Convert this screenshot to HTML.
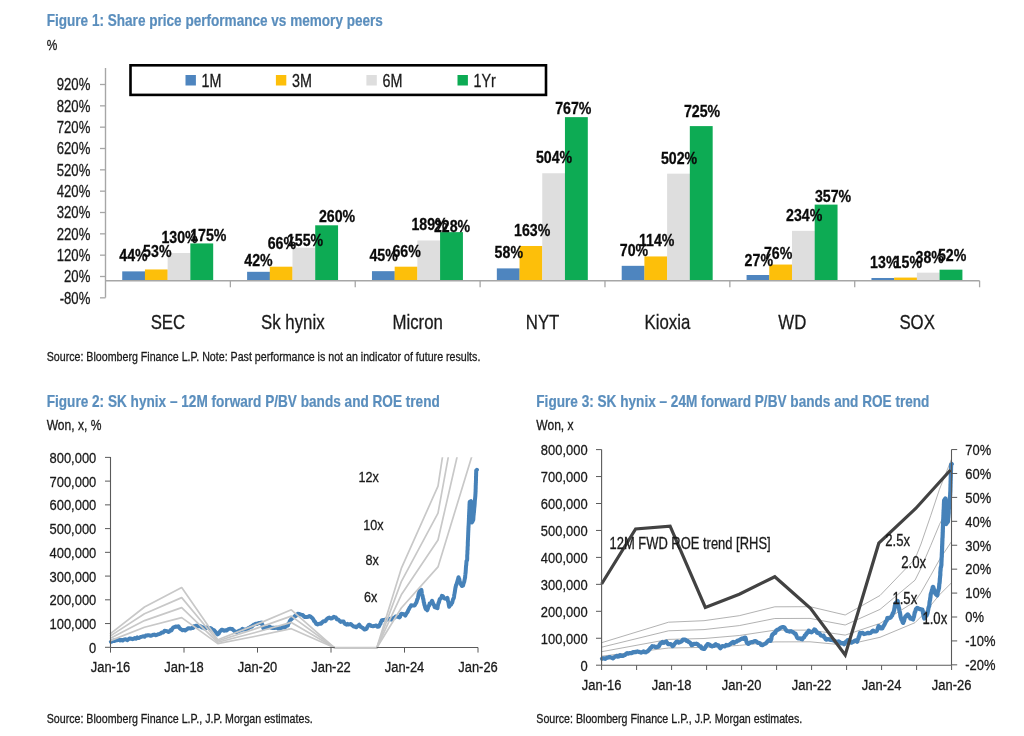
<!DOCTYPE html>
<html lang="en"><head><meta charset="utf-8"><title>Share price performance vs memory peers</title>
<style>
html,body{margin:0;padding:0;background:#fff}
body{width:1024px;height:736px;overflow:hidden}
svg{display:block;font-family:"Liberation Sans",sans-serif}
</style></head><body>
<svg width="1024" height="736" viewBox="0 0 1024 736">
<rect width="1024" height="736" fill="#ffffff"/>
<text transform="translate(46.70,26.20) scale(0.848,1)" font-size="16.0" text-anchor="start" font-weight="700" fill="#5a8ebd" stroke="#5a8ebd" stroke-width="0.2">Figure 1: Share price performance vs memory peers</text>
<text transform="translate(46.70,49.50) scale(0.82,1)" font-size="14.5" text-anchor="start" fill="#1a1a1a" stroke="#1a1a1a" stroke-width="0.3">%</text>
<text transform="translate(46.70,361.10) scale(0.82,1)" font-size="13.0" text-anchor="start" fill="#1a1a1a" stroke="#1a1a1a" stroke-width="0.3">Source: Bloomberg Finance L.P. Note: Past performance is not an indicator of future results.</text>
<text transform="translate(46.70,406.70) scale(0.851,1)" font-size="16.0" text-anchor="start" font-weight="700" fill="#5a8ebd" stroke="#5a8ebd" stroke-width="0.2">Figure 2: SK hynix – 12M forward P/BV bands and ROE trend</text>
<text transform="translate(46.70,430.00) scale(0.85,1)" font-size="14.2" text-anchor="start" fill="#1a1a1a" stroke="#1a1a1a" stroke-width="0.3">Won, x, %</text>
<text transform="translate(536.30,406.80) scale(0.851,1)" font-size="16.0" text-anchor="start" font-weight="700" fill="#5a8ebd" stroke="#5a8ebd" stroke-width="0.2">Figure 3: SK hynix – 24M forward P/BV bands and ROE trend</text>
<text transform="translate(536.30,430.10) scale(0.85,1)" font-size="14.2" text-anchor="start" fill="#1a1a1a" stroke="#1a1a1a" stroke-width="0.3">Won, x</text>
<text transform="translate(46.70,722.50) scale(0.82,1)" font-size="13.0" text-anchor="start" fill="#1a1a1a" stroke="#1a1a1a" stroke-width="0.3">Source: Bloomberg Finance L.P., J.P. Morgan estimates.</text>
<text transform="translate(536.30,722.50) scale(0.82,1)" font-size="13.0" text-anchor="start" fill="#1a1a1a" stroke="#1a1a1a" stroke-width="0.3">Source: Bloomberg Finance L.P., J.P. Morgan estimates.</text>
<rect x="122.23" y="271.38" width="22.85" height="9.39" fill="#4e85bf"/>
<rect x="144.93" y="269.46" width="22.85" height="11.31" fill="#fdbf0a"/>
<rect x="167.63" y="253.03" width="22.85" height="27.73" fill="#dedede"/>
<rect x="190.34" y="243.43" width="22.85" height="37.33" fill="#0dab54"/>
<rect x="247.10" y="271.81" width="22.85" height="8.96" fill="#4e85bf"/>
<rect x="269.80" y="266.69" width="22.85" height="14.08" fill="#fdbf0a"/>
<rect x="292.50" y="247.70" width="22.85" height="33.07" fill="#dedede"/>
<rect x="315.21" y="225.30" width="22.85" height="55.47" fill="#0dab54"/>
<rect x="371.97" y="271.17" width="22.85" height="9.60" fill="#4e85bf"/>
<rect x="394.67" y="266.69" width="22.85" height="14.08" fill="#fdbf0a"/>
<rect x="417.37" y="240.45" width="22.85" height="40.32" fill="#dedede"/>
<rect x="440.08" y="232.13" width="22.85" height="48.64" fill="#0dab54"/>
<rect x="496.84" y="268.39" width="22.85" height="12.37" fill="#4e85bf"/>
<rect x="519.54" y="245.99" width="22.85" height="34.77" fill="#fdbf0a"/>
<rect x="542.25" y="173.25" width="22.85" height="107.52" fill="#dedede"/>
<rect x="564.95" y="117.14" width="22.85" height="163.62" fill="#0dab54"/>
<rect x="621.71" y="265.83" width="22.85" height="14.93" fill="#4e85bf"/>
<rect x="644.41" y="256.45" width="22.85" height="24.32" fill="#fdbf0a"/>
<rect x="667.12" y="173.67" width="22.85" height="107.09" fill="#dedede"/>
<rect x="689.82" y="126.10" width="22.85" height="154.66" fill="#0dab54"/>
<rect x="746.58" y="275.01" width="22.85" height="5.76" fill="#4e85bf"/>
<rect x="769.28" y="264.55" width="22.85" height="16.21" fill="#fdbf0a"/>
<rect x="791.99" y="230.85" width="22.85" height="49.92" fill="#dedede"/>
<rect x="814.69" y="204.61" width="22.85" height="76.16" fill="#0dab54"/>
<rect x="871.45" y="277.99" width="22.85" height="2.77" fill="#4e85bf"/>
<rect x="894.15" y="277.57" width="22.85" height="3.20" fill="#fdbf0a"/>
<rect x="916.86" y="272.66" width="22.85" height="8.11" fill="#dedede"/>
<rect x="939.56" y="269.67" width="22.85" height="11.09" fill="#0dab54"/>
<line x1="105.50" y1="68.00" x2="105.50" y2="297.60" stroke="#a6a6a6" stroke-width="1.4"/>
<line x1="100.00" y1="297.83" x2="105.50" y2="297.83" stroke="#a6a6a6" stroke-width="1.3"/>
<text transform="translate(90.30,303.73) scale(0.82,1)" font-size="16" text-anchor="end" fill="#1a1a1a" stroke="#1a1a1a" stroke-width="0.3">-80%</text>
<line x1="100.00" y1="276.50" x2="105.50" y2="276.50" stroke="#a6a6a6" stroke-width="1.3"/>
<text transform="translate(90.30,282.40) scale(0.82,1)" font-size="16" text-anchor="end" fill="#1a1a1a" stroke="#1a1a1a" stroke-width="0.3">20%</text>
<line x1="100.00" y1="255.17" x2="105.50" y2="255.17" stroke="#a6a6a6" stroke-width="1.3"/>
<text transform="translate(90.30,261.07) scale(0.82,1)" font-size="16" text-anchor="end" fill="#1a1a1a" stroke="#1a1a1a" stroke-width="0.3">120%</text>
<line x1="100.00" y1="233.83" x2="105.50" y2="233.83" stroke="#a6a6a6" stroke-width="1.3"/>
<text transform="translate(90.30,239.73) scale(0.82,1)" font-size="16" text-anchor="end" fill="#1a1a1a" stroke="#1a1a1a" stroke-width="0.3">220%</text>
<line x1="100.00" y1="212.50" x2="105.50" y2="212.50" stroke="#a6a6a6" stroke-width="1.3"/>
<text transform="translate(90.30,218.40) scale(0.82,1)" font-size="16" text-anchor="end" fill="#1a1a1a" stroke="#1a1a1a" stroke-width="0.3">320%</text>
<line x1="100.00" y1="191.17" x2="105.50" y2="191.17" stroke="#a6a6a6" stroke-width="1.3"/>
<text transform="translate(90.30,197.07) scale(0.82,1)" font-size="16" text-anchor="end" fill="#1a1a1a" stroke="#1a1a1a" stroke-width="0.3">420%</text>
<line x1="100.00" y1="169.84" x2="105.50" y2="169.84" stroke="#a6a6a6" stroke-width="1.3"/>
<text transform="translate(90.30,175.74) scale(0.82,1)" font-size="16" text-anchor="end" fill="#1a1a1a" stroke="#1a1a1a" stroke-width="0.3">520%</text>
<line x1="100.00" y1="148.50" x2="105.50" y2="148.50" stroke="#a6a6a6" stroke-width="1.3"/>
<text transform="translate(90.30,154.40) scale(0.82,1)" font-size="16" text-anchor="end" fill="#1a1a1a" stroke="#1a1a1a" stroke-width="0.3">620%</text>
<line x1="100.00" y1="127.17" x2="105.50" y2="127.17" stroke="#a6a6a6" stroke-width="1.3"/>
<text transform="translate(90.30,133.07) scale(0.82,1)" font-size="16" text-anchor="end" fill="#1a1a1a" stroke="#1a1a1a" stroke-width="0.3">720%</text>
<line x1="100.00" y1="105.84" x2="105.50" y2="105.84" stroke="#a6a6a6" stroke-width="1.3"/>
<text transform="translate(90.30,111.74) scale(0.82,1)" font-size="16" text-anchor="end" fill="#1a1a1a" stroke="#1a1a1a" stroke-width="0.3">820%</text>
<line x1="100.00" y1="84.50" x2="105.50" y2="84.50" stroke="#a6a6a6" stroke-width="1.3"/>
<text transform="translate(90.30,90.40) scale(0.82,1)" font-size="16" text-anchor="end" fill="#1a1a1a" stroke="#1a1a1a" stroke-width="0.3">920%</text>
<line x1="105.50" y1="280.77" x2="979.59" y2="280.77" stroke="#a6a6a6" stroke-width="1.4"/>
<line x1="230.37" y1="280.77" x2="230.37" y2="287.27" stroke="#a6a6a6" stroke-width="1.3"/>
<line x1="355.24" y1="280.77" x2="355.24" y2="287.27" stroke="#a6a6a6" stroke-width="1.3"/>
<line x1="480.11" y1="280.77" x2="480.11" y2="287.27" stroke="#a6a6a6" stroke-width="1.3"/>
<line x1="604.98" y1="280.77" x2="604.98" y2="287.27" stroke="#a6a6a6" stroke-width="1.3"/>
<line x1="729.85" y1="280.77" x2="729.85" y2="287.27" stroke="#a6a6a6" stroke-width="1.3"/>
<line x1="854.72" y1="280.77" x2="854.72" y2="287.27" stroke="#a6a6a6" stroke-width="1.3"/>
<line x1="979.59" y1="280.77" x2="979.59" y2="287.27" stroke="#a6a6a6" stroke-width="1.3"/>
<text transform="translate(167.94,329.30) scale(0.82,1)" font-size="20.5" text-anchor="middle" fill="#1a1a1a" stroke="#1a1a1a" stroke-width="0.3">SEC</text>
<text transform="translate(292.81,329.30) scale(0.82,1)" font-size="20.5" text-anchor="middle" fill="#1a1a1a" stroke="#1a1a1a" stroke-width="0.3">Sk hynix</text>
<text transform="translate(417.68,329.30) scale(0.82,1)" font-size="20.5" text-anchor="middle" fill="#1a1a1a" stroke="#1a1a1a" stroke-width="0.3">Micron</text>
<text transform="translate(542.55,329.30) scale(0.82,1)" font-size="20.5" text-anchor="middle" fill="#1a1a1a" stroke="#1a1a1a" stroke-width="0.3">NYT</text>
<text transform="translate(667.41,329.30) scale(0.82,1)" font-size="20.5" text-anchor="middle" fill="#1a1a1a" stroke="#1a1a1a" stroke-width="0.3">Kioxia</text>
<text transform="translate(792.29,329.30) scale(0.82,1)" font-size="20.5" text-anchor="middle" fill="#1a1a1a" stroke="#1a1a1a" stroke-width="0.3">WD</text>
<text transform="translate(917.15,329.30) scale(0.82,1)" font-size="20.5" text-anchor="middle" fill="#1a1a1a" stroke="#1a1a1a" stroke-width="0.3">SOX</text>
<text transform="translate(133.50,261.00) scale(0.82,1)" font-size="17.3" text-anchor="middle" font-weight="700" fill="#0a0a0a" stroke="#0a0a0a" stroke-width="0.3">44%</text>
<text transform="translate(157.30,256.50) scale(0.82,1)" font-size="17.3" text-anchor="middle" font-weight="700" fill="#0a0a0a" stroke="#0a0a0a" stroke-width="0.3">53%</text>
<text transform="translate(179.50,242.50) scale(0.82,1)" font-size="17.3" text-anchor="middle" font-weight="700" fill="#0a0a0a" stroke="#0a0a0a" stroke-width="0.3">130%</text>
<text transform="translate(208.30,241.00) scale(0.82,1)" font-size="17.3" text-anchor="middle" font-weight="700" fill="#0a0a0a" stroke="#0a0a0a" stroke-width="0.3">175%</text>
<text transform="translate(258.50,266.00) scale(0.82,1)" font-size="17.3" text-anchor="middle" font-weight="700" fill="#0a0a0a" stroke="#0a0a0a" stroke-width="0.3">42%</text>
<text transform="translate(281.90,249.30) scale(0.82,1)" font-size="17.3" text-anchor="middle" font-weight="700" fill="#0a0a0a" stroke="#0a0a0a" stroke-width="0.3">66%</text>
<text transform="translate(305.00,246.30) scale(0.82,1)" font-size="17.3" text-anchor="middle" font-weight="700" fill="#0a0a0a" stroke="#0a0a0a" stroke-width="0.3">155%</text>
<text transform="translate(337.10,222.30) scale(0.82,1)" font-size="17.3" text-anchor="middle" font-weight="700" fill="#0a0a0a" stroke="#0a0a0a" stroke-width="0.3">260%</text>
<text transform="translate(383.60,261.00) scale(0.82,1)" font-size="17.3" text-anchor="middle" font-weight="700" fill="#0a0a0a" stroke="#0a0a0a" stroke-width="0.3">45%</text>
<text transform="translate(406.60,256.80) scale(0.82,1)" font-size="17.3" text-anchor="middle" font-weight="700" fill="#0a0a0a" stroke="#0a0a0a" stroke-width="0.3">66%</text>
<text transform="translate(429.50,230.00) scale(0.82,1)" font-size="17.3" text-anchor="middle" font-weight="700" fill="#0a0a0a" stroke="#0a0a0a" stroke-width="0.3">189%</text>
<text transform="translate(452.00,231.80) scale(0.82,1)" font-size="17.3" text-anchor="middle" font-weight="700" fill="#0a0a0a" stroke="#0a0a0a" stroke-width="0.3">228%</text>
<text transform="translate(508.80,258.00) scale(0.82,1)" font-size="17.3" text-anchor="middle" font-weight="700" fill="#0a0a0a" stroke="#0a0a0a" stroke-width="0.3">58%</text>
<text transform="translate(532.20,235.50) scale(0.82,1)" font-size="17.3" text-anchor="middle" font-weight="700" fill="#0a0a0a" stroke="#0a0a0a" stroke-width="0.3">163%</text>
<text transform="translate(554.10,163.30) scale(0.82,1)" font-size="17.3" text-anchor="middle" font-weight="700" fill="#0a0a0a" stroke="#0a0a0a" stroke-width="0.3">504%</text>
<text transform="translate(573.30,114.30) scale(0.82,1)" font-size="17.3" text-anchor="middle" font-weight="700" fill="#0a0a0a" stroke="#0a0a0a" stroke-width="0.3">767%</text>
<text transform="translate(634.00,255.50) scale(0.82,1)" font-size="17.3" text-anchor="middle" font-weight="700" fill="#0a0a0a" stroke="#0a0a0a" stroke-width="0.3">70%</text>
<text transform="translate(656.70,246.00) scale(0.82,1)" font-size="17.3" text-anchor="middle" font-weight="700" fill="#0a0a0a" stroke="#0a0a0a" stroke-width="0.3">114%</text>
<text transform="translate(679.10,164.30) scale(0.82,1)" font-size="17.3" text-anchor="middle" font-weight="700" fill="#0a0a0a" stroke="#0a0a0a" stroke-width="0.3">502%</text>
<text transform="translate(702.10,116.50) scale(0.82,1)" font-size="17.3" text-anchor="middle" font-weight="700" fill="#0a0a0a" stroke="#0a0a0a" stroke-width="0.3">725%</text>
<text transform="translate(758.80,265.50) scale(0.82,1)" font-size="17.3" text-anchor="middle" font-weight="700" fill="#0a0a0a" stroke="#0a0a0a" stroke-width="0.3">27%</text>
<text transform="translate(778.10,259.10) scale(0.82,1)" font-size="17.3" text-anchor="middle" font-weight="700" fill="#0a0a0a" stroke="#0a0a0a" stroke-width="0.3">76%</text>
<text transform="translate(804.20,221.10) scale(0.82,1)" font-size="17.3" text-anchor="middle" font-weight="700" fill="#0a0a0a" stroke="#0a0a0a" stroke-width="0.3">234%</text>
<text transform="translate(833.00,201.50) scale(0.82,1)" font-size="17.3" text-anchor="middle" font-weight="700" fill="#0a0a0a" stroke="#0a0a0a" stroke-width="0.3">357%</text>
<text transform="translate(884.30,268.40) scale(0.82,1)" font-size="17.3" text-anchor="middle" font-weight="700" fill="#0a0a0a" stroke="#0a0a0a" stroke-width="0.3">13%</text>
<text transform="translate(907.80,268.40) scale(0.82,1)" font-size="17.3" text-anchor="middle" font-weight="700" fill="#0a0a0a" stroke="#0a0a0a" stroke-width="0.3">15%</text>
<text transform="translate(929.70,262.70) scale(0.82,1)" font-size="17.3" text-anchor="middle" font-weight="700" fill="#0a0a0a" stroke="#0a0a0a" stroke-width="0.3">38%</text>
<text transform="translate(952.10,260.50) scale(0.82,1)" font-size="17.3" text-anchor="middle" font-weight="700" fill="#0a0a0a" stroke="#0a0a0a" stroke-width="0.3">52%</text>
<rect x="130.5" y="65.3" width="415.5" height="29.6" fill="#fff" stroke="#000" stroke-width="2.6"/>
<rect x="185.50" y="75.00" width="10.40" height="10.50" fill="#4e85bf"/>
<text transform="translate(201.50,86.60) scale(0.82,1)" font-size="17.5" text-anchor="start" fill="#1a1a1a" stroke="#1a1a1a" stroke-width="0.3">1M</text>
<rect x="275.90" y="75.00" width="10.40" height="10.50" fill="#fdbf0a"/>
<text transform="translate(291.90,86.60) scale(0.82,1)" font-size="17.5" text-anchor="start" fill="#1a1a1a" stroke="#1a1a1a" stroke-width="0.3">3M</text>
<rect x="366.40" y="75.00" width="10.40" height="10.50" fill="#dedede"/>
<text transform="translate(382.40,86.60) scale(0.82,1)" font-size="17.5" text-anchor="start" fill="#1a1a1a" stroke="#1a1a1a" stroke-width="0.3">6M</text>
<rect x="457.50" y="75.00" width="10.40" height="10.50" fill="#0dab54"/>
<text transform="translate(473.50,86.60) scale(0.82,1)" font-size="17.5" text-anchor="start" fill="#1a1a1a" stroke="#1a1a1a" stroke-width="0.3">1Yr</text>
<clipPath id="c2"><rect x="108" y="457.2" width="372" height="193"/></clipPath>
<polyline points="110.9,641.8 112.1,641.3 113.2,640.6 114.3,641.1 115.5,640.2 116.7,640.4 117.8,640.1 119.0,639.7 120.2,640.4 121.4,639.9 122.6,640.5 123.8,639.7 125.0,639.3 126.3,639.5 127.5,640.1 128.7,639.0 129.9,638.4 131.2,638.7 132.4,639.2 133.6,638.8 134.9,638.1 136.1,638.7 137.3,637.3 138.5,638.1 139.8,637.5 141.0,636.9 142.2,636.6 143.4,636.3 144.5,636.8 145.7,635.6 146.8,635.5 148.0,635.3 149.3,635.3 150.7,635.8 152.0,635.4 153.2,634.8 154.4,634.6 155.6,635.2 156.8,634.9 158.1,634.2 159.4,634.0 160.7,633.4 161.7,632.5 162.6,632.6 163.6,632.1 164.6,630.8 165.9,631.1 167.2,631.2 168.5,631.9 169.5,631.4 170.5,630.1 171.5,630.4 172.5,628.4 173.4,627.5 174.4,627.2 175.7,626.5 177.0,626.8 178.3,626.2 179.3,627.7 180.2,628.8 181.2,629.4 182.5,630.2 183.8,629.9 185.1,630.5 186.1,629.9 187.1,629.2 188.1,628.3 189.1,628.2 190.4,628.6 191.7,628.0 193.0,628.1 194.0,626.3 194.9,626.3 195.9,625.7 196.9,625.7 198.2,626.3 199.5,626.0 200.8,626.4 201.8,627.5 202.9,627.2 203.9,628.2 204.9,628.6 206.1,628.0 207.3,627.4 208.5,628.1 209.6,627.9 210.6,628.2 211.6,628.8 212.7,630.1 213.7,629.9 214.7,630.9 215.6,632.0 216.6,633.4 217.6,634.4 218.6,633.7 219.6,631.9 220.5,630.8 221.5,629.8 222.5,629.7 223.8,630.8 225.1,630.3 226.4,630.5 227.4,629.8 228.4,629.1 229.3,628.9 230.3,628.7 231.3,628.9 232.3,629.0 233.2,630.0 234.2,630.8 235.2,631.8 236.4,632.2 237.6,631.7 238.8,630.9 240.0,630.5 241.2,630.3 242.4,628.9 243.7,629.5 244.9,629.4 246.1,629.4 247.3,629.1 248.4,628.1 249.6,627.5 250.8,626.6 251.8,626.7 252.8,625.5 253.7,624.7 254.7,624.3 255.7,623.8 256.9,623.9 258.0,623.3 259.2,622.9 260.3,622.8 261.5,622.6 262.0,624.1 262.5,624.8 263.0,627.2 263.5,628.4 264.7,627.6 265.8,627.4 267.0,627.5 268.2,627.3 269.5,626.6 270.8,627.5 272.0,627.9 273.2,627.8 274.4,628.0 275.7,627.7 276.9,627.8 278.1,628.5 279.3,628.1 280.6,628.7 281.8,627.7 283.0,626.8 284.2,627.6 285.4,627.0 286.7,625.8 287.9,625.6 288.3,623.8 288.7,623.3 289.0,623.2 289.4,622.4 289.8,621.1 290.8,619.7 291.8,618.8 292.8,617.7 293.8,617.4 294.8,616.1 295.8,616.0 296.7,614.8 297.7,613.8 298.6,614.0 299.6,614.1 301.1,614.6 302.6,615.0 303.6,616.0 304.5,616.9 305.5,616.9 306.8,617.0 308.1,616.8 309.4,616.1 310.4,616.4 311.4,617.3 312.3,618.0 313.3,619.4 314.1,621.0 314.8,621.4 315.6,622.8 316.3,624.0 317.5,624.5 318.7,623.9 319.9,623.6 321.1,623.7 322.1,622.5 323.1,621.5 324.1,621.2 324.9,621.2 325.7,620.7 326.4,619.4 327.2,618.7 328.0,618.2 329.4,617.6 330.9,618.5 331.9,618.3 332.8,617.6 333.8,616.8 334.8,617.3 335.8,617.5 336.8,619.2 338.1,619.4 339.4,620.7 340.7,621.9 342.1,621.4 343.6,621.4 344.3,623.1 345.1,624.1 345.8,624.1 346.5,624.6 347.5,623.9 348.5,624.6 349.5,624.4 350.8,624.0 352.1,625.2 353.4,626.3 354.4,626.7 355.3,626.6 356.3,627.3 357.8,625.9 359.2,624.7 360.6,626.8 362.1,627.6 363.1,628.1 364.1,629.4 365.1,629.5 365.9,629.2 366.7,628.5 367.4,626.8 368.2,625.6 369.0,624.7 370.3,625.1 371.6,626.1 372.9,626.2 375.0,625.8 376.3,625.5 377.6,626.8 378.9,626.5 379.4,625.4 379.9,624.4 380.4,623.9 380.8,622.3 381.3,621.7 381.8,620.2 383.3,620.0 384.8,619.9 386.0,619.2 387.3,619.6 388.5,619.5 389.9,618.7 391.2,619.6 392.6,618.7 393.6,618.0 394.5,617.6 395.5,616.6 396.8,616.5 398.1,617.0 399.4,617.5 400.1,616.7 400.7,614.6 401.4,613.8 402.7,613.9 404.0,614.3 405.3,615.6 405.9,614.4 406.5,613.4 407.0,612.7 407.6,612.0 408.2,610.3 408.8,609.4 409.4,608.2 409.9,607.2 410.5,606.5 411.1,605.3 412.6,605.5 414.1,605.6 414.7,605.3 415.3,604.2 415.8,603.4 416.4,602.5 417.0,600.4 417.3,599.3 417.7,598.8 418.0,597.7 418.4,595.4 418.7,593.6 419.1,592.8 419.4,591.1 420.4,590.6 421.4,589.9 421.7,592.0 421.9,593.8 422.2,595.4 422.5,595.5 422.8,597.2 423.0,598.5 423.3,598.9 423.6,600.9 423.8,602.6 424.1,602.7 424.3,604.6 424.6,605.1 424.8,606.2 425.4,608.1 426.0,609.3 426.6,609.3 427.2,610.3 427.6,609.4 428.0,608.1 428.4,606.7 428.9,605.7 429.3,605.4 429.7,603.4 430.5,603.1 431.3,602.3 432.1,600.8 432.6,602.0 433.1,603.6 433.6,604.6 434.1,604.9 434.6,607.1 436.1,607.6 437.5,608.2 437.8,605.8 438.2,604.4 438.5,602.8 438.9,602.7 439.2,601.2 439.6,599.6 439.9,598.8 440.6,598.6 441.2,597.8 441.9,595.8 442.9,596.1 443.8,597.9 444.8,598.6 446.1,598.8 447.3,597.8 447.6,598.4 447.8,600.4 448.1,601.5 448.4,601.9 448.7,604.3 448.9,605.4 449.2,606.8 450.0,604.9 450.9,604.9 451.7,603.2 452.1,602.9 452.5,601.4 452.9,599.8 453.3,598.8 453.7,598.3 454.1,596.3 454.3,594.5 454.5,593.7 454.8,592.2 455.0,590.7 455.2,589.4 455.4,588.0 455.7,586.9 455.9,586.0 456.1,584.9 456.5,584.5 456.9,582.9 457.3,581.8 457.7,580.1 458.1,579.0 458.5,577.2 458.9,578.4 459.3,579.2 459.7,581.3 460.1,582.5 460.5,583.0 460.9,584.3 461.9,586.0 462.9,585.7 463.2,585.2 463.5,583.7 463.9,582.5 464.2,581.8 464.5,580.1 464.8,578.8 464.9,578.0 465.1,577.6 465.2,575.7 465.3,575.0 465.4,573.9 465.6,572.7 465.7,571.2 465.8,569.8 465.9,568.0 466.0,566.7 466.1,565.4 466.2,565.3 466.3,563.8 466.4,562.4 466.5,560.9 466.8,560.8 467.1,560.1 467.2,558.9 467.2,557.1 467.2,555.6 467.3,554.4 467.4,553.6 467.4,552.1 467.4,551.3 467.5,550.0 467.6,550.0 467.6,549.4 467.6,547.8 467.7,546.0 467.8,545.8 467.8,544.0 467.8,542.7 467.9,540.8 467.9,540.1 468.0,539.2 468.0,538.3 468.1,536.8 468.1,536.0 468.2,534.2 468.2,533.2 468.3,531.8 468.3,531.1 468.4,529.6 468.4,528.2 468.5,527.5 468.5,526.4 468.6,525.9 468.6,525.0 468.7,524.3 468.7,523.3 468.8,522.3 468.8,521.5 468.9,519.7 468.9,518.1 469.0,517.9 469.0,515.8 469.1,515.2 469.1,514.1 469.2,512.0 469.2,511.8 469.3,511.1 469.3,509.8 469.4,508.7 469.4,507.7 469.5,505.5 469.5,504.6 469.6,503.5 469.6,502.9 469.7,502.0 470.9,501.2 470.9,502.0 471.0,503.4 471.0,504.3 471.0,505.4 471.1,505.7 471.1,506.1 471.1,507.0 471.2,508.4 471.2,509.3 471.2,511.5 471.3,512.6 471.3,513.8 471.4,515.0 471.4,516.2 471.4,517.1 471.5,517.2 471.5,519.2 471.5,520.7 471.6,521.5 471.6,522.6 472.4,521.8 473.2,520.0 473.3,519.6 473.4,517.9 473.5,516.2 473.6,515.1 473.7,514.7 473.8,513.0 473.9,512.5 474.0,512.1 474.1,510.4 474.2,508.8 474.3,507.7 474.4,506.9 474.5,506.0 474.6,504.8 474.7,503.6 474.8,501.5 474.9,500.1 475.0,499.0 475.1,498.7 475.2,497.2 475.3,496.3 475.4,494.4 475.5,493.0 475.5,492.1 475.6,491.7 475.6,490.9 475.6,489.9 475.7,488.2 475.7,487.2 475.7,486.0 475.8,484.8 475.8,483.1 475.9,483.0 475.9,481.2 475.9,481.0 476.0,480.3 476.0,477.7 476.0,476.7 476.1,476.2 476.1,475.6 476.1,473.9 476.2,472.1 476.2,470.6 476.9,469.8" fill="none" stroke="#4682b9" stroke-width="4.0" stroke-linejoin="round" stroke-linecap="round"/>
<polyline points="110.5,640.6 144.5,627.3 181.7,617.6 217.8,643.6 254.4,636.5 291.3,628.7 334.6,647.7 376.8,647.7 401.3,608.0 438.0,566.9 475.0,446.0" fill="none" stroke="#c8c8c8" stroke-width="1.7" stroke-linejoin="round" stroke-linecap="round" clip-path="url(#c2)"/>
<polyline points="110.5,638.2 144.5,620.6 181.7,607.6 217.8,642.3 254.4,632.8 291.3,622.4 334.6,647.8 376.8,647.8 401.3,594.8 438.0,540.0 475.0,378.8" fill="none" stroke="#c8c8c8" stroke-width="1.7" stroke-linejoin="round" stroke-linecap="round" clip-path="url(#c2)"/>
<polyline points="110.5,635.9 144.5,613.8 181.7,597.6 217.8,641.0 254.4,629.1 291.3,616.1 334.6,647.8 376.8,647.8 401.3,581.6 438.0,513.1 475.0,311.6" fill="none" stroke="#c8c8c8" stroke-width="1.7" stroke-linejoin="round" stroke-linecap="round" clip-path="url(#c2)"/>
<polyline points="110.5,633.6 144.5,607.0 181.7,587.6 217.8,639.7 254.4,625.4 291.3,609.8 334.6,647.8 376.8,647.8 401.3,568.4 438.0,486.2 475.0,244.4" fill="none" stroke="#c8c8c8" stroke-width="1.7" stroke-linejoin="round" stroke-linecap="round" clip-path="url(#c2)"/>
<line x1="110.50" y1="457.00" x2="110.50" y2="647.50" stroke="#5a5a5a" stroke-width="1.1"/>
<line x1="110.50" y1="647.50" x2="478.00" y2="647.50" stroke="#5a5a5a" stroke-width="1.1"/>
<line x1="105.00" y1="647.30" x2="110.50" y2="647.30" stroke="#5a5a5a" stroke-width="1.0"/>
<text transform="translate(96.30,652.80) scale(0.835,1)" font-size="15.5" text-anchor="end" fill="#1a1a1a" stroke="#1a1a1a" stroke-width="0.3">0</text>
<line x1="105.00" y1="623.56" x2="110.50" y2="623.56" stroke="#5a5a5a" stroke-width="1.0"/>
<text transform="translate(96.30,629.06) scale(0.835,1)" font-size="15.5" text-anchor="end" fill="#1a1a1a" stroke="#1a1a1a" stroke-width="0.3">100,000</text>
<line x1="105.00" y1="599.82" x2="110.50" y2="599.82" stroke="#5a5a5a" stroke-width="1.0"/>
<text transform="translate(96.30,605.32) scale(0.835,1)" font-size="15.5" text-anchor="end" fill="#1a1a1a" stroke="#1a1a1a" stroke-width="0.3">200,000</text>
<line x1="105.00" y1="576.08" x2="110.50" y2="576.08" stroke="#5a5a5a" stroke-width="1.0"/>
<text transform="translate(96.30,581.58) scale(0.835,1)" font-size="15.5" text-anchor="end" fill="#1a1a1a" stroke="#1a1a1a" stroke-width="0.3">300,000</text>
<line x1="105.00" y1="552.34" x2="110.50" y2="552.34" stroke="#5a5a5a" stroke-width="1.0"/>
<text transform="translate(96.30,557.84) scale(0.835,1)" font-size="15.5" text-anchor="end" fill="#1a1a1a" stroke="#1a1a1a" stroke-width="0.3">400,000</text>
<line x1="105.00" y1="528.60" x2="110.50" y2="528.60" stroke="#5a5a5a" stroke-width="1.0"/>
<text transform="translate(96.30,534.10) scale(0.835,1)" font-size="15.5" text-anchor="end" fill="#1a1a1a" stroke="#1a1a1a" stroke-width="0.3">500,000</text>
<line x1="105.00" y1="504.86" x2="110.50" y2="504.86" stroke="#5a5a5a" stroke-width="1.0"/>
<text transform="translate(96.30,510.36) scale(0.835,1)" font-size="15.5" text-anchor="end" fill="#1a1a1a" stroke="#1a1a1a" stroke-width="0.3">600,000</text>
<line x1="105.00" y1="481.12" x2="110.50" y2="481.12" stroke="#5a5a5a" stroke-width="1.0"/>
<text transform="translate(96.30,486.62) scale(0.835,1)" font-size="15.5" text-anchor="end" fill="#1a1a1a" stroke="#1a1a1a" stroke-width="0.3">700,000</text>
<line x1="105.00" y1="457.38" x2="110.50" y2="457.38" stroke="#5a5a5a" stroke-width="1.0"/>
<text transform="translate(96.30,462.88) scale(0.835,1)" font-size="15.5" text-anchor="end" fill="#1a1a1a" stroke="#1a1a1a" stroke-width="0.3">800,000</text>
<line x1="110.50" y1="647.50" x2="110.50" y2="652.60" stroke="#5a5a5a" stroke-width="1.0"/>
<text transform="translate(110.50,672.00) scale(0.835,1)" font-size="15.5" text-anchor="middle" fill="#1a1a1a" stroke="#1a1a1a" stroke-width="0.3">Jan-16</text>
<line x1="184.00" y1="647.50" x2="184.00" y2="652.60" stroke="#5a5a5a" stroke-width="1.0"/>
<text transform="translate(184.00,672.00) scale(0.835,1)" font-size="15.5" text-anchor="middle" fill="#1a1a1a" stroke="#1a1a1a" stroke-width="0.3">Jan-18</text>
<line x1="257.50" y1="647.50" x2="257.50" y2="652.60" stroke="#5a5a5a" stroke-width="1.0"/>
<text transform="translate(257.50,672.00) scale(0.835,1)" font-size="15.5" text-anchor="middle" fill="#1a1a1a" stroke="#1a1a1a" stroke-width="0.3">Jan-20</text>
<line x1="331.00" y1="647.50" x2="331.00" y2="652.60" stroke="#5a5a5a" stroke-width="1.0"/>
<text transform="translate(331.00,672.00) scale(0.835,1)" font-size="15.5" text-anchor="middle" fill="#1a1a1a" stroke="#1a1a1a" stroke-width="0.3">Jan-22</text>
<line x1="404.50" y1="647.50" x2="404.50" y2="652.60" stroke="#5a5a5a" stroke-width="1.0"/>
<text transform="translate(404.50,672.00) scale(0.835,1)" font-size="15.5" text-anchor="middle" fill="#1a1a1a" stroke="#1a1a1a" stroke-width="0.3">Jan-24</text>
<line x1="478.00" y1="647.50" x2="478.00" y2="652.60" stroke="#5a5a5a" stroke-width="1.0"/>
<text transform="translate(478.00,672.00) scale(0.835,1)" font-size="15.5" text-anchor="middle" fill="#1a1a1a" stroke="#1a1a1a" stroke-width="0.3">Jan-26</text>
<line x1="334.80" y1="647.90" x2="376.60" y2="647.90" stroke="#c8c8c8" stroke-width="1.7"/>
<text transform="translate(358.50,482.20) scale(0.83,1)" font-size="15.2" text-anchor="start" fill="#1a1a1a" stroke="#1a1a1a" stroke-width="0.3">12x</text>
<text transform="translate(363.30,530.00) scale(0.83,1)" font-size="15.2" text-anchor="start" fill="#1a1a1a" stroke="#1a1a1a" stroke-width="0.3">10x</text>
<text transform="translate(365.40,565.00) scale(0.83,1)" font-size="15.2" text-anchor="start" fill="#1a1a1a" stroke="#1a1a1a" stroke-width="0.3">8x</text>
<text transform="translate(363.90,601.50) scale(0.83,1)" font-size="15.2" text-anchor="start" fill="#1a1a1a" stroke="#1a1a1a" stroke-width="0.3">6x</text>
<clipPath id="c3"><rect x="600" y="449.5" width="351.5" height="218"/></clipPath>
<polyline points="601.6,656.2 668.6,648.0 704.0,647.4 739.3,645.4 774.8,641.9 810.0,641.8 845.2,645.1 880.0,637.3 915.0,622.7 921.0,616.7 930.7,605.4 939.5,594.8 951.5,582.8" fill="none" stroke="#a4a4a4" stroke-width="0.85" stroke-linejoin="round" stroke-linecap="round" clip-path="url(#c3)"/>
<polyline points="601.6,651.7 668.6,639.4 704.0,638.5 739.3,635.5 774.8,630.2 810.0,630.1 845.2,635.1 880.0,623.4 915.0,601.5 921.0,592.5 930.7,575.5 939.5,559.6 951.5,541.6" fill="none" stroke="#a4a4a4" stroke-width="0.85" stroke-linejoin="round" stroke-linecap="round" clip-path="url(#c3)"/>
<polyline points="601.6,647.2 668.6,630.8 704.0,629.6 739.3,625.6 774.8,618.5 810.0,618.4 845.2,625.0 880.0,609.4 915.0,580.2 921.0,568.2 930.7,545.6 939.5,524.4 951.5,500.4" fill="none" stroke="#a4a4a4" stroke-width="0.85" stroke-linejoin="round" stroke-linecap="round" clip-path="url(#c3)"/>
<polyline points="601.6,642.7 668.6,622.2 704.0,620.7 739.3,615.7 774.8,606.8 810.0,606.7 845.2,615.0 880.0,595.5 915.0,559.0 921.0,544.0 930.7,515.7 939.5,489.2 951.5,459.2" fill="none" stroke="#a4a4a4" stroke-width="0.85" stroke-linejoin="round" stroke-linecap="round" clip-path="url(#c3)"/>
<polyline points="602.0,658.7 603.1,658.4 604.2,658.3 605.3,658.8 606.4,658.0 607.5,657.7 608.6,657.5 609.7,657.0 610.8,657.4 612.0,657.8 613.1,658.4 614.3,657.1 615.5,656.6 616.6,655.9 617.8,656.6 619.0,656.5 620.1,655.1 621.3,655.9 622.5,656.0 623.6,655.5 624.8,655.1 626.0,654.0 627.1,653.1 628.3,653.7 629.5,653.1 630.6,653.1 631.8,653.1 632.9,652.2 634.0,652.3 635.1,651.9 636.2,652.1 637.3,651.4 638.6,651.9 639.9,652.1 641.1,652.6 642.3,652.1 643.4,651.4 644.6,652.1 645.7,652.3 646.9,651.7 648.2,650.8 649.4,649.4 650.3,648.2 651.3,647.4 652.2,646.2 653.1,646.5 654.4,646.4 655.6,647.2 656.8,646.8 657.8,646.9 658.7,646.5 659.7,644.5 660.6,643.2 661.5,643.3 662.5,642.0 663.7,642.8 664.9,642.2 666.2,641.5 667.1,642.8 668.0,644.1 668.9,644.2 670.2,644.0 671.4,644.6 672.6,646.1 673.6,645.5 674.6,643.8 675.5,642.8 676.5,641.7 677.7,641.5 678.9,642.6 680.2,642.1 681.1,641.7 682.0,640.9 683.0,639.6 683.9,639.5 685.1,639.5 686.4,640.8 687.6,640.9 688.6,641.9 689.6,642.4 690.5,643.1 691.5,645.1 692.6,644.9 693.8,643.8 694.9,644.0 696.3,643.7 697.6,644.2 698.9,645.5 699.9,646.4 700.8,646.3 701.7,648.3 702.7,648.4 703.6,649.0 704.4,648.9 705.2,647.6 705.9,646.5 706.7,645.2 707.5,644.2 708.3,644.1 709.5,644.6 710.7,645.8 712.0,646.4 712.9,645.8 713.8,646.0 714.8,644.9 715.7,644.2 716.6,645.4 717.6,645.2 718.5,645.4 719.4,647.2 720.4,648.3 721.5,646.9 722.6,646.0 723.8,646.2 724.9,646.4 726.1,645.0 727.3,645.5 728.4,645.3 729.6,644.5 730.7,643.7 731.8,642.7 733.0,641.9 734.1,643.0 735.2,642.0 736.4,641.8 737.6,640.6 738.7,640.6 739.9,639.8 741.0,639.1 742.1,638.4 743.2,638.9 744.3,637.9 745.4,637.6 745.9,639.4 746.4,641.3 746.8,642.5 747.3,643.2 748.4,643.9 749.5,643.0 750.6,642.2 751.8,642.0 753.0,642.1 754.2,641.3 755.4,641.0 756.6,641.8 757.7,642.8 758.9,642.8 760.1,643.4 761.2,644.9 762.4,645.1 763.6,644.4 764.7,643.9 765.9,643.3 767.1,641.9 768.2,640.8 769.4,639.9 770.6,640.8 770.9,639.8 771.3,639.1 771.6,636.6 772.0,635.8 772.4,634.5 773.3,634.1 774.3,632.9 775.2,633.0 775.9,631.0 776.5,630.4 777.1,629.9 778.0,629.7 779.0,629.0 779.9,628.3 780.8,627.7 781.7,627.3 783.1,627.0 784.6,627.7 785.5,629.3 786.4,630.6 787.3,631.0 788.6,631.3 789.8,631.6 791.0,631.2 792.0,631.8 792.9,632.0 793.8,632.8 794.7,633.6 795.5,633.7 796.2,635.3 796.9,637.1 797.6,638.2 798.7,638.5 799.9,638.3 801.0,639.0 802.2,639.3 803.1,637.9 804.1,637.3 805.0,635.2 805.8,635.0 806.5,633.2 807.3,632.9 808.0,632.0 808.7,630.7 810.1,631.9 811.5,632.3 812.4,631.6 813.3,631.2 814.3,629.5 815.2,629.8 816.2,631.0 817.1,632.8 818.4,633.1 819.6,633.5 820.8,635.4 822.2,635.8 823.6,635.7 824.3,637.5 825.0,637.9 825.7,639.3 826.4,639.7 827.3,639.2 828.3,639.3 829.2,639.2 830.5,640.0 831.7,639.8 832.9,640.3 833.9,640.6 834.8,640.8 835.7,641.9 837.1,641.8 838.5,641.4 839.8,642.1 841.2,643.3 842.2,643.1 843.1,643.2 844.1,644.2 844.8,643.1 845.6,642.0 846.3,641.4 847.0,640.9 847.8,640.1 849.0,640.3 850.3,641.6 851.5,642.7 853.5,641.5 854.7,640.7 856.0,640.3 857.2,641.7 857.6,639.7 858.0,639.4 858.4,638.4 858.8,636.9 859.2,636.4 859.6,634.3 860.0,632.9 861.4,633.3 862.8,632.8 864.0,634.1 865.2,633.7 866.4,633.5 867.7,632.8 869.0,633.3 870.3,633.0 871.2,632.3 872.1,631.4 873.0,630.6 874.3,631.4 875.5,631.5 876.7,631.0 877.4,629.7 878.0,627.9 878.6,626.1 879.9,627.2 881.1,628.4 882.4,628.4 882.8,627.2 883.3,626.3 883.7,625.9 884.2,624.9 884.7,624.0 885.1,623.3 885.7,621.7 886.2,621.1 886.8,620.4 887.3,618.1 887.9,617.9 889.3,618.2 890.7,617.4 891.2,616.5 891.7,615.9 892.1,615.5 892.6,613.9 893.0,612.9 893.5,612.5 893.8,611.4 894.1,610.5 894.4,608.7 894.6,607.5 894.9,605.6 895.2,604.9 895.5,604.2 895.8,602.9 896.7,602.4 897.7,601.0 897.9,603.0 898.1,604.7 898.4,606.0 898.6,606.6 898.8,607.9 899.1,608.3 899.3,610.2 899.5,611.5 899.7,611.9 899.9,612.2 900.1,613.5 900.3,614.9 900.5,616.5 900.7,617.4 900.9,617.6 901.5,619.8 902.1,620.2 902.6,622.3 903.2,622.8 903.6,621.6 904.0,621.2 904.4,619.2 904.8,617.7 905.2,617.0 905.6,616.4 906.4,615.9 907.1,614.9 907.9,614.4 908.4,614.9 908.8,616.5 909.3,616.4 909.8,617.2 910.3,618.7 911.6,618.7 913.0,619.6 913.3,618.7 913.6,617.4 913.9,616.8 914.2,615.4 914.5,613.8 914.7,612.6 915.0,612.2 915.3,611.5 915.9,609.2 916.6,608.6 917.2,607.8 918.1,608.2 919.1,608.9 920.0,609.1 921.2,609.4 922.4,609.5 922.6,610.8 922.8,611.0 923.0,613.3 923.3,614.1 923.5,614.9 923.7,616.6 923.9,617.5 924.2,618.5 925.0,617.8 925.8,615.9 926.6,615.4 926.9,614.2 927.2,613.9 927.5,613.1 927.9,610.9 928.2,609.7 928.5,607.9 928.8,606.9 929.0,606.6 929.2,606.0 929.4,604.3 929.5,602.7 929.7,601.2 929.9,600.6 930.1,600.2 930.2,598.1 930.4,597.7 930.6,595.6 930.7,594.3 931.1,593.1 931.4,592.7 931.7,591.2 932.0,590.0 932.4,589.2 932.7,587.4 933.0,586.9 933.4,587.4 933.8,589.0 934.2,589.9 934.6,590.8 934.9,592.5 935.3,593.7 936.3,594.5 937.2,595.4 937.5,594.4 937.7,592.7 938.0,591.4 938.3,590.8 938.5,589.9 938.8,588.7 939.0,588.1 939.1,586.8 939.2,586.0 939.3,584.0 939.5,583.4 939.6,582.6 939.7,581.8 939.8,579.8 939.9,578.3 940.0,578.0 940.1,576.1 940.2,575.9 940.3,575.0 940.3,572.7 940.4,571.3 940.5,570.8 940.6,569.2 940.7,567.5 941.0,567.1 941.3,565.4 941.4,564.8 941.4,562.8 941.5,561.8 941.5,561.2 941.6,559.2 941.6,558.0 941.7,557.6 941.7,557.2 941.8,556.6 941.8,554.2 941.9,553.2 941.9,552.6 942.0,551.2 942.0,550.3 942.1,548.5 942.1,546.8 942.2,545.5 942.2,544.2 942.3,543.9 942.3,543.0 942.3,542.1 942.4,540.4 942.4,539.0 942.5,537.8 942.5,537.7 942.6,537.3 942.6,536.4 942.7,533.9 942.7,532.1 942.8,532.2 942.8,530.8 942.8,530.0 942.9,528.3 942.9,527.1 943.0,526.1 943.0,524.8 943.1,523.9 943.1,521.9 943.2,521.5 943.2,520.9 943.3,518.9 943.3,517.8 943.4,517.2 943.4,515.7 943.5,514.0 943.5,512.6 943.6,511.9 943.6,510.1 943.7,510.2 943.7,509.4 943.8,508.3 943.8,507.4 943.9,505.9 943.9,504.3 944.0,503.2 944.0,502.0 944.1,501.6 944.1,500.4 945.4,498.5 945.5,500.4 945.5,501.5 945.5,502.7 945.6,504.0 945.6,504.4 945.6,506.1 945.7,507.5 945.7,508.4 945.7,509.6 945.8,510.7 945.8,511.2 945.8,512.6 945.9,512.8 945.9,513.9 945.9,515.3 946.0,515.8 946.0,517.2 946.0,518.9 946.1,520.3 946.1,520.9 946.1,523.0 946.2,524.1 947.0,522.5 947.9,521.8 948.0,520.5 948.1,519.3 948.2,517.8 948.3,517.5 948.4,516.1 948.5,514.9 948.6,513.8 948.7,513.0 948.7,510.4 948.8,509.6 948.9,508.8 949.0,507.0 949.1,505.9 949.2,504.1 949.3,503.0 949.4,502.1 949.5,500.7 949.6,499.6 949.7,499.7 949.8,498.5 949.9,497.2 950.0,496.8 950.1,495.4 950.2,494.8 950.2,493.3 950.3,492.3 950.4,490.0 950.4,489.3 950.4,488.6 950.5,486.4 950.5,486.3 950.5,484.4 950.6,483.4 950.6,481.8 950.6,481.0 950.7,480.3 950.7,478.4 950.7,478.4 950.8,476.9 950.8,475.8 950.8,474.8 950.9,473.3 950.9,471.9 950.9,471.3 951.0,470.2 951.0,468.6 951.0,468.1 951.1,466.5 951.1,464.6 951.8,464.0" fill="none" stroke="#4682b9" stroke-width="4.2" stroke-linejoin="round" stroke-linecap="round"/>
<polyline points="601.6,584.0 635.6,529.0 670.1,526.1 705.3,607.5 739.3,594.3 774.8,576.7 810.5,608.3 845.2,654.9 878.8,543.2 915.7,508.5 950.5,470.0" fill="none" stroke="#424242" stroke-width="3.2" stroke-linejoin="miter"/>
<line x1="601.60" y1="449.50" x2="601.60" y2="665.20" stroke="#5a5a5a" stroke-width="1.1"/>
<line x1="601.60" y1="665.20" x2="951.50" y2="665.20" stroke="#5a5a5a" stroke-width="1.1"/>
<line x1="951.50" y1="449.50" x2="951.50" y2="665.20" stroke="#5a5a5a" stroke-width="1.1"/>
<line x1="596.00" y1="665.20" x2="601.60" y2="665.20" stroke="#5a5a5a" stroke-width="1.0"/>
<text transform="translate(587.60,670.70) scale(0.835,1)" font-size="15.5" text-anchor="end" fill="#1a1a1a" stroke="#1a1a1a" stroke-width="0.3">0</text>
<line x1="596.00" y1="638.25" x2="601.60" y2="638.25" stroke="#5a5a5a" stroke-width="1.0"/>
<text transform="translate(587.60,643.75) scale(0.835,1)" font-size="15.5" text-anchor="end" fill="#1a1a1a" stroke="#1a1a1a" stroke-width="0.3">100,000</text>
<line x1="596.00" y1="611.30" x2="601.60" y2="611.30" stroke="#5a5a5a" stroke-width="1.0"/>
<text transform="translate(587.60,616.80) scale(0.835,1)" font-size="15.5" text-anchor="end" fill="#1a1a1a" stroke="#1a1a1a" stroke-width="0.3">200,000</text>
<line x1="596.00" y1="584.35" x2="601.60" y2="584.35" stroke="#5a5a5a" stroke-width="1.0"/>
<text transform="translate(587.60,589.85) scale(0.835,1)" font-size="15.5" text-anchor="end" fill="#1a1a1a" stroke="#1a1a1a" stroke-width="0.3">300,000</text>
<line x1="596.00" y1="557.40" x2="601.60" y2="557.40" stroke="#5a5a5a" stroke-width="1.0"/>
<text transform="translate(587.60,562.90) scale(0.835,1)" font-size="15.5" text-anchor="end" fill="#1a1a1a" stroke="#1a1a1a" stroke-width="0.3">400,000</text>
<line x1="596.00" y1="530.45" x2="601.60" y2="530.45" stroke="#5a5a5a" stroke-width="1.0"/>
<text transform="translate(587.60,535.95) scale(0.835,1)" font-size="15.5" text-anchor="end" fill="#1a1a1a" stroke="#1a1a1a" stroke-width="0.3">500,000</text>
<line x1="596.00" y1="503.50" x2="601.60" y2="503.50" stroke="#5a5a5a" stroke-width="1.0"/>
<text transform="translate(587.60,509.00) scale(0.835,1)" font-size="15.5" text-anchor="end" fill="#1a1a1a" stroke="#1a1a1a" stroke-width="0.3">600,000</text>
<line x1="596.00" y1="476.55" x2="601.60" y2="476.55" stroke="#5a5a5a" stroke-width="1.0"/>
<text transform="translate(587.60,482.05) scale(0.835,1)" font-size="15.5" text-anchor="end" fill="#1a1a1a" stroke="#1a1a1a" stroke-width="0.3">700,000</text>
<line x1="596.00" y1="449.60" x2="601.60" y2="449.60" stroke="#5a5a5a" stroke-width="1.0"/>
<text transform="translate(587.60,455.10) scale(0.835,1)" font-size="15.5" text-anchor="end" fill="#1a1a1a" stroke="#1a1a1a" stroke-width="0.3">800,000</text>
<line x1="601.60" y1="665.20" x2="601.60" y2="670.00" stroke="#5a5a5a" stroke-width="1.0"/>
<text transform="translate(601.60,690.00) scale(0.835,1)" font-size="15.5" text-anchor="middle" fill="#1a1a1a" stroke="#1a1a1a" stroke-width="0.3">Jan-16</text>
<line x1="636.60" y1="665.20" x2="636.60" y2="670.00" stroke="#5a5a5a" stroke-width="1.0"/>
<line x1="671.60" y1="665.20" x2="671.60" y2="670.00" stroke="#5a5a5a" stroke-width="1.0"/>
<text transform="translate(671.60,690.00) scale(0.835,1)" font-size="15.5" text-anchor="middle" fill="#1a1a1a" stroke="#1a1a1a" stroke-width="0.3">Jan-18</text>
<line x1="706.60" y1="665.20" x2="706.60" y2="670.00" stroke="#5a5a5a" stroke-width="1.0"/>
<line x1="741.60" y1="665.20" x2="741.60" y2="670.00" stroke="#5a5a5a" stroke-width="1.0"/>
<text transform="translate(741.60,690.00) scale(0.835,1)" font-size="15.5" text-anchor="middle" fill="#1a1a1a" stroke="#1a1a1a" stroke-width="0.3">Jan-20</text>
<line x1="776.60" y1="665.20" x2="776.60" y2="670.00" stroke="#5a5a5a" stroke-width="1.0"/>
<line x1="811.60" y1="665.20" x2="811.60" y2="670.00" stroke="#5a5a5a" stroke-width="1.0"/>
<text transform="translate(811.60,690.00) scale(0.835,1)" font-size="15.5" text-anchor="middle" fill="#1a1a1a" stroke="#1a1a1a" stroke-width="0.3">Jan-22</text>
<line x1="846.60" y1="665.20" x2="846.60" y2="670.00" stroke="#5a5a5a" stroke-width="1.0"/>
<line x1="881.60" y1="665.20" x2="881.60" y2="670.00" stroke="#5a5a5a" stroke-width="1.0"/>
<text transform="translate(881.60,690.00) scale(0.835,1)" font-size="15.5" text-anchor="middle" fill="#1a1a1a" stroke="#1a1a1a" stroke-width="0.3">Jan-24</text>
<line x1="916.60" y1="665.20" x2="916.60" y2="670.00" stroke="#5a5a5a" stroke-width="1.0"/>
<line x1="951.60" y1="665.20" x2="951.60" y2="670.00" stroke="#5a5a5a" stroke-width="1.0"/>
<text transform="translate(951.60,690.00) scale(0.835,1)" font-size="15.5" text-anchor="middle" fill="#1a1a1a" stroke="#1a1a1a" stroke-width="0.3">Jan-26</text>
<line x1="951.50" y1="664.84" x2="957.20" y2="664.84" stroke="#5a5a5a" stroke-width="1.0"/>
<text transform="translate(965.30,670.14) scale(0.835,1)" font-size="15.5" text-anchor="start" fill="#1a1a1a" stroke="#1a1a1a" stroke-width="0.3">-20%</text>
<line x1="951.50" y1="640.92" x2="957.20" y2="640.92" stroke="#5a5a5a" stroke-width="1.0"/>
<text transform="translate(965.30,646.22) scale(0.835,1)" font-size="15.5" text-anchor="start" fill="#1a1a1a" stroke="#1a1a1a" stroke-width="0.3">-10%</text>
<line x1="951.50" y1="617.00" x2="957.20" y2="617.00" stroke="#5a5a5a" stroke-width="1.0"/>
<text transform="translate(965.30,622.30) scale(0.835,1)" font-size="15.5" text-anchor="start" fill="#1a1a1a" stroke="#1a1a1a" stroke-width="0.3">0%</text>
<line x1="951.50" y1="593.08" x2="957.20" y2="593.08" stroke="#5a5a5a" stroke-width="1.0"/>
<text transform="translate(965.30,598.38) scale(0.835,1)" font-size="15.5" text-anchor="start" fill="#1a1a1a" stroke="#1a1a1a" stroke-width="0.3">10%</text>
<line x1="951.50" y1="569.16" x2="957.20" y2="569.16" stroke="#5a5a5a" stroke-width="1.0"/>
<text transform="translate(965.30,574.46) scale(0.835,1)" font-size="15.5" text-anchor="start" fill="#1a1a1a" stroke="#1a1a1a" stroke-width="0.3">20%</text>
<line x1="951.50" y1="545.24" x2="957.20" y2="545.24" stroke="#5a5a5a" stroke-width="1.0"/>
<text transform="translate(965.30,550.54) scale(0.835,1)" font-size="15.5" text-anchor="start" fill="#1a1a1a" stroke="#1a1a1a" stroke-width="0.3">30%</text>
<line x1="951.50" y1="521.32" x2="957.20" y2="521.32" stroke="#5a5a5a" stroke-width="1.0"/>
<text transform="translate(965.30,526.62) scale(0.835,1)" font-size="15.5" text-anchor="start" fill="#1a1a1a" stroke="#1a1a1a" stroke-width="0.3">40%</text>
<line x1="951.50" y1="497.40" x2="957.20" y2="497.40" stroke="#5a5a5a" stroke-width="1.0"/>
<text transform="translate(965.30,502.70) scale(0.835,1)" font-size="15.5" text-anchor="start" fill="#1a1a1a" stroke="#1a1a1a" stroke-width="0.3">50%</text>
<line x1="951.50" y1="473.48" x2="957.20" y2="473.48" stroke="#5a5a5a" stroke-width="1.0"/>
<text transform="translate(965.30,478.78) scale(0.835,1)" font-size="15.5" text-anchor="start" fill="#1a1a1a" stroke="#1a1a1a" stroke-width="0.3">60%</text>
<line x1="951.50" y1="449.56" x2="957.20" y2="449.56" stroke="#5a5a5a" stroke-width="1.0"/>
<text transform="translate(965.30,454.86) scale(0.835,1)" font-size="15.5" text-anchor="start" fill="#1a1a1a" stroke="#1a1a1a" stroke-width="0.3">70%</text>
<text transform="translate(885.20,546.00) scale(0.82,1)" font-size="16" text-anchor="start" fill="#1a1a1a" stroke="#1a1a1a" stroke-width="0.3">2.5x</text>
<text transform="translate(901.20,567.80) scale(0.82,1)" font-size="16" text-anchor="start" fill="#1a1a1a" stroke="#1a1a1a" stroke-width="0.3">2.0x</text>
<text transform="translate(892.40,604.00) scale(0.82,1)" font-size="16" text-anchor="start" fill="#1a1a1a" stroke="#1a1a1a" stroke-width="0.3">1.5x</text>
<text transform="translate(922.40,624.20) scale(0.82,1)" font-size="16" text-anchor="start" fill="#1a1a1a" stroke="#1a1a1a" stroke-width="0.3">1.0x</text>
<text transform="translate(609.50,548.50) scale(0.82,1)" font-size="15.8" text-anchor="start" fill="#1a1a1a" stroke="#1a1a1a" stroke-width="0.3">12M FWD ROE trend [RHS]</text>
</svg>
</body></html>
